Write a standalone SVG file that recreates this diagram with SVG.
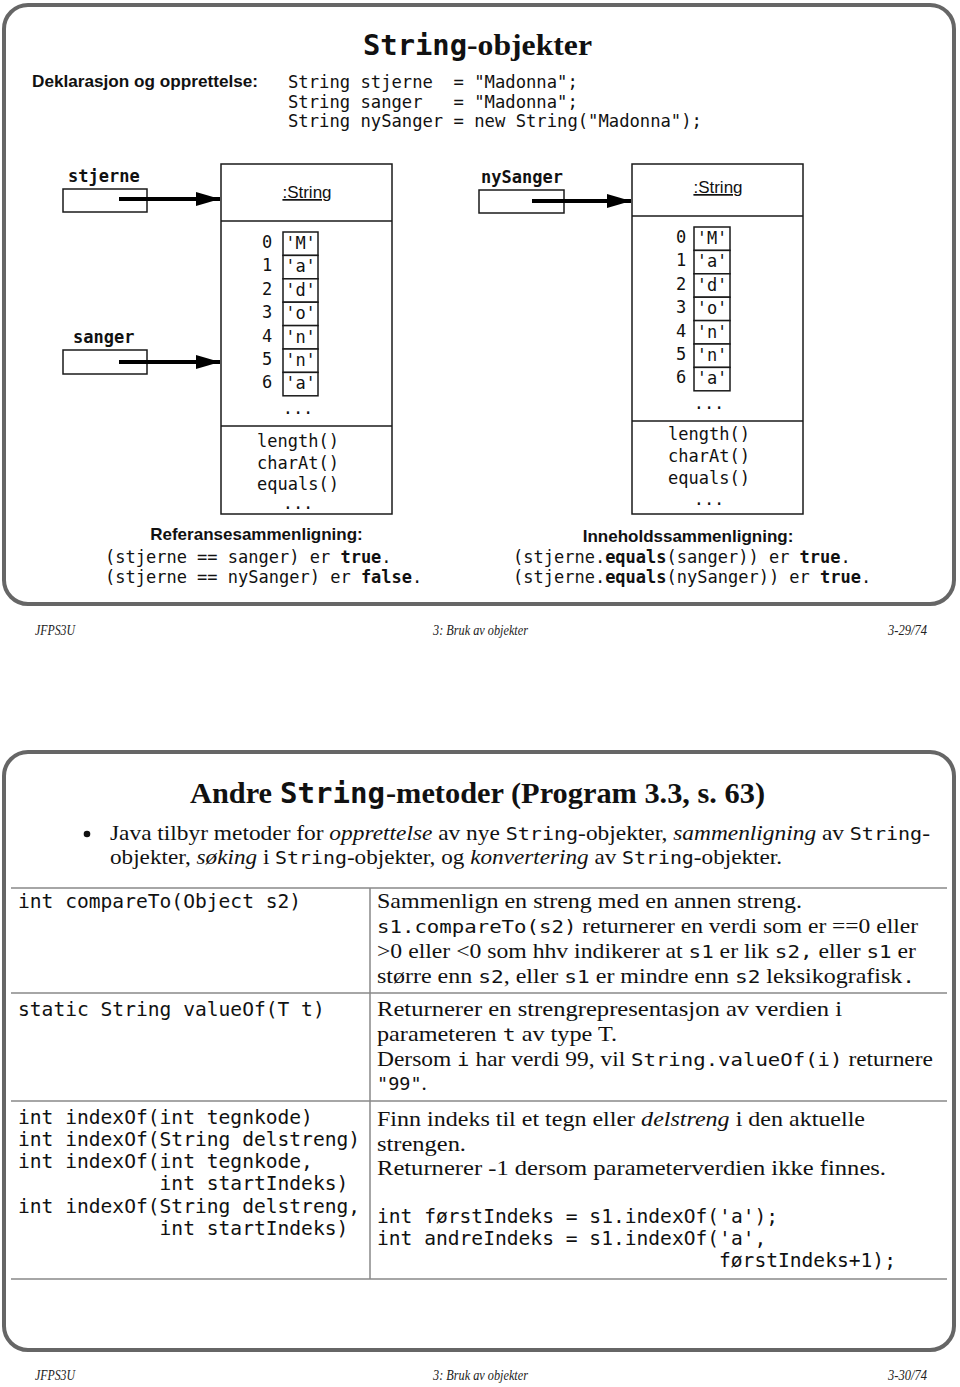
<svg xmlns="http://www.w3.org/2000/svg" width="960" height="1387" viewBox="0 0 960 1387">
<defs>
<style>
.panel{fill:none;stroke:#666;stroke-width:4}
.box{fill:#fff;stroke:#1a1a1a;stroke-width:1.5}
.ln{stroke:#1a1a1a;stroke-width:1.5}
.tl{stroke:#888;stroke-width:1.5}
.mono{font-family:"DejaVu Sans Mono","Liberation Mono",monospace;fill:#111;white-space:pre}
.monob{font-family:"DejaVu Sans Mono","Liberation Mono",monospace;font-weight:bold;fill:#111;white-space:pre}
.sans{font-family:"Liberation Sans",Arial,sans-serif;fill:#111}
.sansb{font-family:"Liberation Sans",Arial,sans-serif;font-weight:bold;fill:#111}
.serif{font-family:"Liberation Serif","Times New Roman",serif;fill:#111;white-space:pre}
.serifb{font-family:"Liberation Serif","Times New Roman",serif;font-weight:bold;fill:#111}
.foot{font-family:"Liberation Serif","Times New Roman",serif;font-style:italic;font-size:15px;fill:#222}
.m{font-family:"DejaVu Sans Mono","Liberation Mono",monospace;font-style:normal}
.i{font-style:italic}
.b{font-weight:bold}
.conn{stroke:#000;stroke-width:4;fill:none;marker-end:url(#ah)}
</style>
<marker id="ah" markerUnits="userSpaceOnUse" markerWidth="24" markerHeight="14" refX="24" refY="7" orient="auto">
<path d="M0,0 L24,7 L0,14 z" fill="#000"/>
</marker>
</defs>
<rect width="960" height="1387" fill="#fff"/>

<!-- ===== Slide 1 ===== -->
<g id="slide1">
<rect class="panel" x="4" y="5" width="950" height="599" rx="24"/>
<g id="title1">
<text class="monob" x="363" y="55" font-size="28" textLength="104" lengthAdjust="spacingAndGlyphs">String</text>
<text class="serifb" x="467" y="55" font-size="29" textLength="125" lengthAdjust="spacingAndGlyphs">-objekter</text>
</g>
<g id="declaration">
<text class="sansb" x="32" y="87" font-size="16.5" textLength="226" lengthAdjust="spacingAndGlyphs">Deklarasjon og opprettelse:</text>
<text class="mono" x="288" y="88" font-size="17.2">String stjerne  = "Madonna";</text>
<text class="mono" x="288" y="107.5" font-size="17.2">String sanger   = "Madonna";</text>
<text class="mono" x="288" y="127" font-size="17.2">String nySanger = new String("Madonna");</text>
</g>

<g id="node-stjerne">
<text class="monob" x="68" y="182" font-size="17">stjerne</text>
<rect class="box" x="63" y="189" width="84" height="23"/>
</g>
<g id="node-sanger">
<text class="monob" x="73" y="343" font-size="17">sanger</text>
<rect class="box" x="63" y="350" width="84" height="24"/>
</g>
<g id="node-nySanger">
<text class="monob" x="481" y="183" font-size="17">nySanger</text>
<rect class="box" x="479" y="190" width="85" height="23"/>
</g>

<g id="node-string1">
<rect class="box" x="221" y="164" width="171" height="350"/>
<line class="ln" x1="221" y1="221" x2="392" y2="221"/>
<line class="ln" x1="221" y1="426" x2="392" y2="426"/>
<text class="sans" x="307" y="198" font-size="17" text-anchor="middle" text-decoration="underline">:String</text>
<g fill="#fff" stroke="#1a1a1a" stroke-width="1.5">
<rect x="283" y="232" width="35" height="23.4"/>
<rect x="283" y="255.4" width="35" height="23.4"/>
<rect x="283" y="278.8" width="35" height="23.4"/>
<rect x="283" y="302.2" width="35" height="23.4"/>
<rect x="283" y="325.6" width="35" height="23.4"/>
<rect x="283" y="349" width="35" height="23.4"/>
<rect x="283" y="372.4" width="35" height="23.4"/>
</g>
<g class="mono" font-size="17" text-anchor="middle">
<text x="267" y="248">0</text><text x="300.5" y="249">'M'</text>
<text x="267" y="271.4">1</text><text x="300.5" y="272.4">'a'</text>
<text x="267" y="294.8">2</text><text x="300.5" y="295.8">'d'</text>
<text x="267" y="318.2">3</text><text x="300.5" y="319.2">'o'</text>
<text x="267" y="341.6">4</text><text x="300.5" y="342.6">'n'</text>
<text x="267" y="365">5</text><text x="300.5" y="366">'n'</text>
<text x="267" y="388.4">6</text><text x="300.5" y="389.4">'a'</text>
<text x="298" y="414">...</text>
</g>
<g class="mono" font-size="17">
<text x="257" y="447">length()</text>
<text x="257" y="469">charAt()</text>
<text x="257" y="490">equals()</text>
<text x="298" y="509" text-anchor="middle">...</text>
</g>
</g>

<g id="node-string2">
<rect class="box" x="632" y="164" width="171" height="350"/>
<line class="ln" x1="632" y1="216" x2="803" y2="216"/>
<line class="ln" x1="632" y1="421" x2="803" y2="421"/>
<text class="sans" x="718" y="193" font-size="17" text-anchor="middle" text-decoration="underline">:String</text>
<g fill="#fff" stroke="#1a1a1a" stroke-width="1.5">
<rect x="694" y="227" width="36" height="23.4"/>
<rect x="694" y="250.4" width="36" height="23.4"/>
<rect x="694" y="273.8" width="36" height="23.4"/>
<rect x="694" y="297.2" width="36" height="23.4"/>
<rect x="694" y="320.6" width="36" height="23.4"/>
<rect x="694" y="344" width="36" height="23.4"/>
<rect x="694" y="367.4" width="36" height="23.4"/>
</g>
<g class="mono" font-size="17" text-anchor="middle">
<text x="681" y="243">0</text><text x="712" y="244">'M'</text>
<text x="681" y="266.4">1</text><text x="712" y="267.4">'a'</text>
<text x="681" y="289.8">2</text><text x="712" y="290.8">'d'</text>
<text x="681" y="313.2">3</text><text x="712" y="314.2">'o'</text>
<text x="681" y="336.6">4</text><text x="712" y="337.6">'n'</text>
<text x="681" y="360">5</text><text x="712" y="361">'n'</text>
<text x="681" y="383.4">6</text><text x="712" y="384.4">'a'</text>
<text x="709" y="409">...</text>
</g>
<g class="mono" font-size="17">
<text x="668" y="440">length()</text>
<text x="668" y="462">charAt()</text>
<text x="668" y="484">equals()</text>
<text x="709" y="505" text-anchor="middle">...</text>
</g>
</g>

<g id="connectors">
<line class="conn" x1="119" y1="199" x2="220" y2="199"/>
<line class="conn" x1="119" y1="362" x2="220" y2="362"/>
<line class="conn" x1="532" y1="201" x2="631" y2="201"/>
</g>

<g id="comparisons">
<text class="sansb" x="256.5" y="540" font-size="17" text-anchor="middle">Referansesammenligning:</text>
<text class="mono" x="105" y="563" font-size="17">(stjerne == sanger) er <tspan class="b">true</tspan>.</text>
<text class="mono" x="105" y="583" font-size="17">(stjerne == nySanger) er <tspan class="b">false</tspan>.</text>
<text class="sansb" x="688" y="542" font-size="17" text-anchor="middle">Inneholdssammenligning:</text>
<text class="mono" x="513" y="563" font-size="17">(stjerne.<tspan class="b">equals</tspan>(sanger)) er <tspan class="b">true</tspan>.</text>
<text class="mono" x="513" y="583" font-size="17">(stjerne.<tspan class="b">equals</tspan>(nySanger)) er <tspan class="b">true</tspan>.</text>
</g>

<g id="footer1">
<text class="foot" x="35" y="635" textLength="40" lengthAdjust="spacingAndGlyphs">JFPS3U</text>
<text class="foot" x="433" y="635" textLength="95" lengthAdjust="spacingAndGlyphs">3: Bruk av objekter</text>
<text class="foot" x="888" y="635" textLength="39" lengthAdjust="spacingAndGlyphs">3-29/74</text>
</g>
</g>

<!-- ===== Slide 2 ===== -->
<g id="slide2">
<rect class="panel" x="4" y="752" width="950" height="598" rx="24"/>
<g id="title2">
<text class="serifb" x="190" y="803" font-size="29" textLength="82" lengthAdjust="spacingAndGlyphs">Andre</text>
<text class="monob" x="280" y="803" font-size="28" textLength="105" lengthAdjust="spacingAndGlyphs">String</text>
<text class="serifb" x="386" y="803" font-size="29" textLength="379" lengthAdjust="spacingAndGlyphs">-metoder (Program 3.3, s. 63)</text>
</g>
<g id="bullet">
<circle cx="87" cy="834" r="3.3" fill="#111"/>
<text class="serif" x="110" y="840" font-size="21" textLength="820" lengthAdjust="spacingAndGlyphs">Java tilbyr metoder for <tspan class="i">opprettelse</tspan> av nye <tspan class="m" font-size="18">String</tspan>-objekter, <tspan class="i">sammenligning</tspan> av <tspan class="m" font-size="18">String</tspan>-</text>
<text class="serif" x="110" y="864" font-size="21" textLength="672" lengthAdjust="spacingAndGlyphs">objekter, <tspan class="i">søking</tspan> i <tspan class="m" font-size="18">String</tspan>-objekter, og <tspan class="i">konvertering</tspan> av <tspan class="m" font-size="18">String</tspan>-objekter.</text>
</g>

<g id="table">
<line class="tl" x1="11" y1="888" x2="947" y2="888"/>
<line class="tl" x1="11" y1="993" x2="947" y2="993"/>
<line class="tl" x1="11" y1="1101" x2="947" y2="1101"/>
<line class="tl" x1="11" y1="1279" x2="947" y2="1279"/>
<line class="tl" x1="370" y1="888" x2="370" y2="1279"/>
</g>

<g id="row-compareTo">
<text class="mono" x="18" y="908" font-size="19.6">int compareTo(Object s2)</text>
<text class="serif" x="377" y="908" font-size="21" textLength="425" lengthAdjust="spacingAndGlyphs">Sammenlign en streng med en annen streng.</text>
<text class="serif" x="377" y="933" font-size="21" textLength="541" lengthAdjust="spacingAndGlyphs"><tspan class="m" font-size="18.5">s1.compareTo(s2)</tspan> returnerer en verdi som er ==0 eller</text>
<text class="serif" x="377" y="958" font-size="21" textLength="539" lengthAdjust="spacingAndGlyphs">&gt;0 eller &lt;0 som hhv indikerer at <tspan class="m" font-size="18.5">s1</tspan> er lik <tspan class="m" font-size="18.5">s2,</tspan> eller <tspan class="m" font-size="18.5">s1</tspan> er</text>
<text class="serif" x="377" y="983" font-size="21" textLength="538" lengthAdjust="spacingAndGlyphs">større enn <tspan class="m" font-size="18.5">s2</tspan>, eller <tspan class="m" font-size="18.5">s1</tspan> er mindre enn <tspan class="m" font-size="18.5">s2</tspan> leksikografisk<tspan class="m" font-size="18.5">.</tspan></text>
</g>

<g id="row-valueOf">
<text class="mono" x="18" y="1016" font-size="19.6">static String valueOf(T t)</text>
<text class="serif" x="377" y="1016" font-size="21" textLength="465" lengthAdjust="spacingAndGlyphs">Returnerer en strengrepresentasjon av verdien i</text>
<text class="serif" x="377" y="1041" font-size="21" textLength="240" lengthAdjust="spacingAndGlyphs">parameteren <tspan class="m" font-size="18.5">t</tspan> av type T.</text>
<text class="serif" x="377" y="1066" font-size="21" textLength="556" lengthAdjust="spacingAndGlyphs">Dersom <tspan class="m" font-size="18.5">i</tspan> har verdi 99, vil <tspan class="m" font-size="18.5">String.valueOf(i)</tspan> returnere</text>
<text class="serif" x="377" y="1090" font-size="21"><tspan class="m" font-size="18.5">"99"</tspan>.</text>
</g>

<g id="row-indexOf">
<text class="mono" x="18" y="1124" font-size="19.6">int indexOf(int tegnkode)</text>
<text class="mono" x="18" y="1146" font-size="19.6">int indexOf(String delstreng)</text>
<text class="mono" x="18" y="1168" font-size="19.6">int indexOf(int tegnkode,</text>
<text class="mono" x="18" y="1190" font-size="19.6">            int startIndeks)</text>
<text class="mono" x="18" y="1213" font-size="19.6">int indexOf(String delstreng,</text>
<text class="mono" x="18" y="1235" font-size="19.6">            int startIndeks)</text>
<text class="serif" x="377" y="1126" font-size="21" textLength="488" lengthAdjust="spacingAndGlyphs">Finn indeks til et tegn eller <tspan class="i">delstreng</tspan> i den aktuelle</text>
<text class="serif" x="377" y="1151" font-size="21" textLength="89" lengthAdjust="spacingAndGlyphs">strengen.</text>
<text class="serif" x="377" y="1175" font-size="21" textLength="509" lengthAdjust="spacingAndGlyphs">Returnerer -1 dersom parameterverdien ikke finnes.</text>
<text class="mono" x="377" y="1223" font-size="19.6">int førstIndeks = s1.indexOf('a');</text>
<text class="mono" x="377" y="1245" font-size="19.6">int andreIndeks = s1.indexOf('a',</text>
<text class="mono" x="719" y="1267" font-size="19.6">førstIndeks+1);</text>
</g>

<g id="footer2">
<text class="foot" x="35" y="1380" textLength="40" lengthAdjust="spacingAndGlyphs">JFPS3U</text>
<text class="foot" x="433" y="1380" textLength="95" lengthAdjust="spacingAndGlyphs">3: Bruk av objekter</text>
<text class="foot" x="888" y="1380" textLength="39" lengthAdjust="spacingAndGlyphs">3-30/74</text>
</g>
</g>
</svg>
